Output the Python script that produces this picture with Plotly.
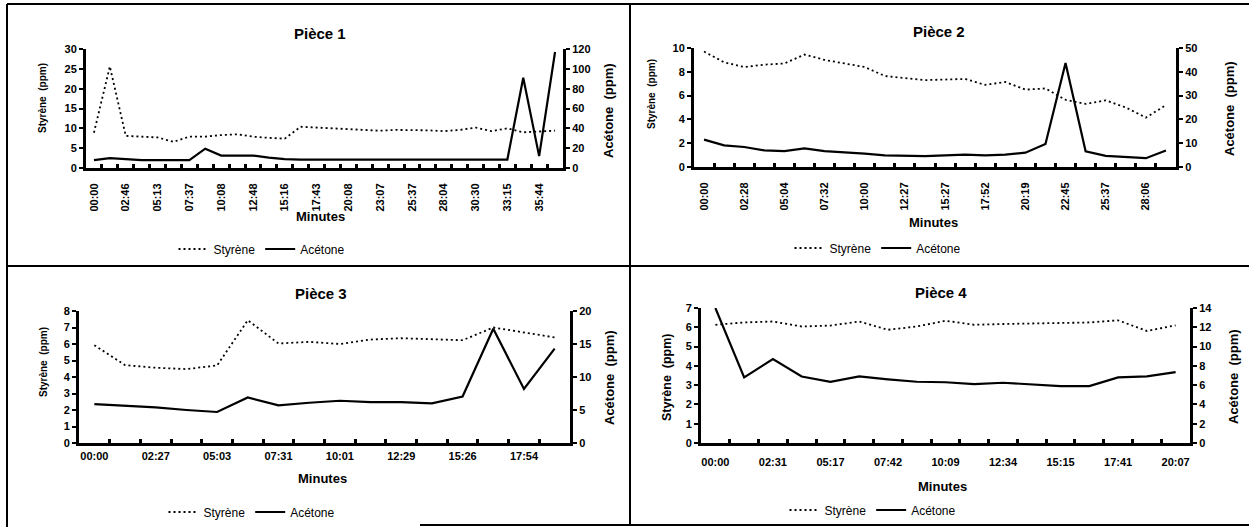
import plotly.graph_objects as go

W, H = 1249, 527
FONT = "Liberation Sans, Arial, sans-serif"

# ---------------- data ----------------
p1_labels = ["00:00", "02:46", "05:13", "07:37", "10:08", "12:48", "15:16", "17:43",
             "20:08", "23:07", "25:37", "28:04", "30:30", "33:15", "35:44"]
p1_styrene = [8.9, 25.6, 8.1, 7.9, 7.7, 6.6, 7.9, 7.9, 8.3, 8.5, 7.9, 7.6, 7.4, 10.4, 10.2,
              9.9, 9.8, 9.6, 9.4, 9.6, 9.6, 9.5, 9.3, 9.6, 10.2, 9.3, 10.0, 9.0, 9.2, 9.4]
p1_acetone = [8, 10, 9, 8, 8, 8, 8, 19.5, 12.5, 12.5, 12.5, 10.5, 9, 8.5, 8.5,
              8.5, 8.5, 8.5, 8.5, 8.5, 8.5, 8.5, 8.5, 8.5, 8.5, 8.5, 8.5, 91, 12, 117]

p2_labels = ["00:00", "02:28", "05:04", "07:32", "10:00", "12:27", "15:27", "17:52",
             "20:19", "22:45", "25:37", "28:06"]
p2_styrene = [9.7, 8.8, 8.4, 8.6, 8.7, 9.45, 9.0, 8.7, 8.4, 7.65, 7.5, 7.3,
              7.35, 7.4, 6.9, 7.15, 6.5, 6.6, 5.65, 5.3, 5.6, 5.0, 4.15, 5.2]
p2_acetone = [11.5, 9.1, 8.4, 7.0, 6.7, 7.8, 6.7, 6.3, 5.6, 4.9, 4.6, 4.6,
              4.9, 5.2, 4.9, 5.2, 6.0, 9.7, 43.7, 6.6, 4.7, 4.3, 3.7, 6.9]

p3_labels = ["00:00", "02:27", "05:03", "07:31", "10:01", "12:29", "15:26", "17:54"]
p3_styrene = [5.93, 4.72, 4.56, 4.48, 4.7, 7.44, 6.03, 6.13, 6.0, 6.27, 6.35, 6.31,
              6.23, 7.0, 6.7, 6.4]
p3_acetone = [5.9, 5.7, 5.4, 5.0, 4.7, 6.9, 5.7, 6.1, 6.4, 6.2, 6.2, 6.0,
              7.05, 17.3, 8.2, 14.3]

p4_labels = ["00:00", "02:31", "05:17", "07:42", "10:09", "12:34", "15:15", "17:41", "20:07"]
p4_styrene = [6.13, 6.25, 6.3, 6.04, 6.09, 6.3, 5.87, 6.04, 6.34, 6.13, 6.17, 6.2,
              6.25, 6.25, 6.36, 5.81, 6.1]
p4_acetone = [14.0, 6.8, 8.7, 6.9, 6.35, 6.9, 6.6, 6.35, 6.3, 6.1, 6.25, 6.1,
              5.9, 5.9, 6.8, 6.9, 7.35]

titles = ["Pièce 1", "Pièce 2", "Pièce 3", "Pièce 4"]
left_ranges = [(0, 30, 5), (0, 10, 2), (0, 8, 1), (0, 7, 1)]
right_ranges = [(0, 120, 20), (0, 50, 10), (0, 20, 5), (0, 14, 2)]


def fx(x):
    return x / W


def fy(y):
    return 1 - y / H


# pixel layout of each panel
panels = [
    dict(labels=p1_labels, sty=p1_styrene, ace=p1_acetone,
         x0=86, x1=563, ytop=49, ybot=168, angle=-90, standoff=8,
         title=(320, 33), ylab=(43, 98, 10), rlab=(608, 111, 13), xlab=(320, 216),
         leg=(262, 249)),
    dict(labels=p2_labels, sty=p2_styrene, ace=p2_acetone,
         x0=694, x1=1176, ytop=48, ybot=167, angle=-90, standoff=8,
         title=(939, 32), ylab=(652, 94, 10), rlab=(1230, 109, 13), xlab=(933, 223),
         leg=(878, 248)),
    dict(labels=p3_labels, sty=p3_styrene, ace=p3_acetone,
         x0=79, x1=570, ytop=311, ybot=443, angle=0, standoff=1,
         title=(321, 293), ylab=(43, 362, 10), rlab=(609, 378, 13), xlab=(322, 478),
         leg=(252, 512)),
    dict(labels=p4_labels, sty=p4_styrene, ace=p4_acetone,
         x0=701, x1=1190, ytop=308, ybot=443, angle=0, standoff=7,
         title=(941, 292), ylab=(667, 377, 12.5), rlab=(1233, 377, 13), xlab=(943, 486),
         leg=(873, 510)),
]

TICKFONT = dict(family=FONT, size=11, color="black", weight="bold")

fig = go.Figure()
layout = {}
annotations = []


def note(x, y, text, size, angle=0):
    return dict(x=fx(x), y=fy(y), xref="paper", yref="paper", text=text,
                showarrow=False, textangle=angle, xanchor="center", yanchor="middle",
                font=dict(family=FONT, size=size, color="black"))


for k, p in enumerate(panels):
    n = len(p["sty"])
    xs = list(range(n))
    xa = "x" if k == 0 else f"x{k+1}"
    yl = "y" if k == 0 else f"y{2*k+1}"
    yr = f"y{2*k+2}"
    leg = "legend" if k == 0 else f"legend{k+1}"

    fig.add_trace(go.Scatter(x=xs, y=p["sty"], xaxis=xa, yaxis=yl, mode="lines",
                             name="Styrène", legend=leg,
                             line=dict(color="black", width=1.8, dash="2px,3px")))
    fig.add_trace(go.Scatter(x=xs, y=p["ace"], xaxis=xa, yaxis=yr, mode="lines",
                             name="Acétone", legend=leg,
                             line=dict(color="black", width=2.2)))

    xkey = "xaxis" if k == 0 else f"xaxis{k+1}"
    ylkey = "yaxis" if k == 0 else f"yaxis{2*k+1}"
    yrkey = f"yaxis{2*k+2}"

    layout[xkey] = dict(
        domain=[fx(p["x0"]), fx(p["x1"])], anchor=yl, range=[-0.5, n - 0.5],
        tickmode="array", tickvals=list(range(0, n, 2)), ticktext=p["labels"],
        ticks="", tickangle=p["angle"], ticklabelstandoff=p["standoff"],
        showline=True, linewidth=3, linecolor="black", showgrid=False, zeroline=False,
        tickfont=TICKFONT, automargin=False,
        minor=dict(tickmode="array", tickvals=[i + 0.5 for i in range(n - 1)],
                   ticks="inside", ticklen=4, tickwidth=2.5, tickcolor="black"),
        fixedrange=True,
    )
    lo, hi, dt = left_ranges[k]
    layout[ylkey] = dict(
        domain=[fy(p["ybot"]), fy(p["ytop"])], anchor=xa, range=[lo, hi],
        dtick=dt, tick0=0, ticks="outside", ticklen=4, tickwidth=2, tickcolor="black",
        showline=True, linewidth=3, linecolor="black", showgrid=False, zeroline=False,
        tickfont=TICKFONT, fixedrange=True, automargin=False,
    )
    lo, hi, dt = right_ranges[k]
    layout[yrkey] = dict(
        overlaying=yl, side="right", anchor=xa, range=[lo, hi],
        dtick=dt, tick0=0, ticks="outside", ticklen=4, tickwidth=2, tickcolor="black",
        showline=True, linewidth=3, linecolor="black", showgrid=False, zeroline=False,
        tickfont=TICKFONT, fixedrange=True, automargin=False,
    )
    layout[leg] = dict(
        orientation="h", x=fx(p["leg"][0]), xanchor="center",
        y=fy(p["leg"][1]), yanchor="middle", bgcolor="rgba(0,0,0,0)",
        font=dict(family=FONT, size=12, color="black"), itemwidth=30,
        tracegroupgap=0,
    )

    tx, ty = p["title"]
    annotations.append(note(tx, ty, "<b>%s</b>" % titles[k], 15))
    lx, ly, ls = p["ylab"]
    annotations.append(note(lx, ly, "<b>Styrène  (ppm)</b>", ls, -90))
    rx, ry, rs = p["rlab"]
    annotations.append(note(rx, ry, "<b>Acétone  (ppm)</b>", rs, -90))
    mx, my = p["xlab"]
    annotations.append(note(mx, my, "<b>Minutes</b>", 13))

# panel frame lines of the scanned page
frame = [
    (7, 4, 1249, 4),
    (7, 4, 7, 527),
    (630, 4, 630, 525),
    (7, 266, 1249, 266),
    (420, 525, 1249, 525),
]
shapes = [dict(type="line", xref="paper", yref="paper",
               x0=fx(a), y0=fy(b), x1=fx(c), y1=fy(d),
               line=dict(color="black", width=2)) for a, b, c, d in frame]

fig.update_layout(
    width=W, height=H, autosize=False,
    margin=dict(l=0, r=0, t=0, b=0, autoexpand=False),
    paper_bgcolor="white", plot_bgcolor="white",
    font=dict(family=FONT, color="black"),
    annotations=annotations, shapes=shapes,
    **layout,
)

fig.write_html("out.html", config={"displayModeBar": False},
               post_script="document.body.style.margin='0';document.body.style.overflow='hidden';")
